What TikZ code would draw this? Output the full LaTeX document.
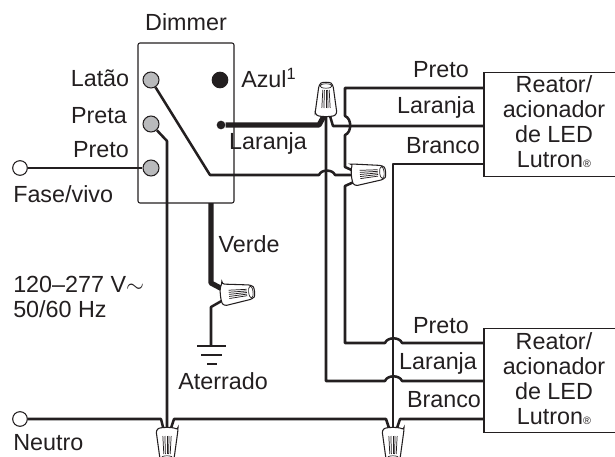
\documentclass[tikz,border=0pt]{standalone}
\usepackage{xcolor}
\usepackage{fontspec}
\setmainfont{Liberation Sans}
\usetikzlibrary{positioning,calc}
\definecolor{wirecol}{HTML}{231F20}
\definecolor{termcol}{HTML}{B9BABC}
\tikzset{
  wire/.style={draw=wirecol, line width=1.9pt, line join=round},
  thickwire/.style={draw=wirecol, line width=3.9pt, line join=round},
  box/.style={draw=wirecol, line width=0.8pt},
  term/.style={circle, draw=wirecol, line width=0.8pt, fill=termcol, minimum size=12pt, inner sep=0pt},
  free/.style={circle, draw=wirecol, line width=0.8pt, fill=white, minimum size=11pt, inner sep=0pt},
  lbl/.style={text=wirecol, font=\fontsize{17.5}{18.75}\selectfont, inner sep=0pt},
  wirenut/.pic={
    \draw[wirecol, fill=white, line width=0.8pt, rounded corners=2pt]
      (-11,0) -- (-7,-29) .. controls (-4,-32) and (4,-32) .. (7,-29) -- (11,0)
      .. controls (6,3) and (-6,3) .. cycle;
    \draw[wirecol, line width=0.5pt] (0,-28) ellipse (6 and 2.2);
    \foreach \i in {-3.2,-1.6,0,1.6,3.2}
      \draw[wirecol, line width=0.55pt] (\i*1.3,-6) -- (\i,-24);
  }
}
\begin{document}
\begin{tikzpicture}[x=0.75pt,y=-0.75pt]
  \clip (0,0) rectangle (615,457);
  % dimmer and drivers
  \draw[box, rounded corners=1.5pt] (138,43) rectangle (234,203);
  \node[box, minimum width=102pt, minimum height=77.5pt, inner sep=0pt] at (552,124.5) (driverA) {};
  \node[box, minimum width=102pt, minimum height=77.5pt, inner sep=0pt] at (552,380.5) (driverB) {};
  % terminals
  \node[term] at (151,80) (latao) {};
  \node[term] at (151,124) (preta) {};
  \node[term] at (151,168) (preto) {};
  \node[circle, fill=wirecol, minimum size=12.5pt, inner sep=0pt] at (220,80) (azul) {};
  \node[circle, fill=wirecol, minimum size=6.5pt, inner sep=0pt] at (221,125) (laranjaDot) {};
  \node[free] at (20,168) (fase) {};
  \node[free] at (20,419) (neutro) {};
  % points on the wires
  \coordinate (nutTop) at (326,114);
  \coordinate (nutTopL) at (324,116);
  \coordinate (nutTopR) at (330,116);
  \coordinate (nutMid) at (354,175);
  \coordinate (nutMidUp) at (356,172);
  \coordinate (nutMidLo) at (356,181);
  \coordinate (nutGnd) at (223,295);
  \coordinate (nutGndUp) at (226,291);
  \coordinate (nutGndLo) at (225,299);
  \coordinate (nutN) at (167,430);
  \coordinate (nutNL) at (164,431);
  \coordinate (nutNR) at (170,431);
  \coordinate (nutW) at (393,430);
  \coordinate (nutWL) at (390,431);
  \coordinate (nutWR) at (396,431);
  \coordinate (gnd) at (211,346);
  % wires
  \draw[wire] (fase) -- (preto);
  \draw[wire] (preta) -- (167,141) -- (nutN);
  \draw[wire] (latao) -- (210,175) -- (319,175) to[bend left=70] (335,175) -- (nutMid);
  \draw[thickwire] (laranjaDot) -- (319,125) -- (nutTopL);
  \draw[wire] (nutTop) -- (326,381) -- (385,381) to[bend left=70] (402,381) -- (driverB.west |- 326,381);
  \draw[wire] (nutTopR) -- (333,126) -- (driverA.west |- 332,126);
  \draw[wire] (driverA.west |- 345,88) -- (345,88) -- (345,116) to[bend left=70] (345,135) -- (345,167) -- (nutMidUp);
  \draw[wire] (nutMidLo) -- (345,186) -- (345,343) -- (385,343) to[bend left=70] (402,343) -- (driverB.west |- 345,343);
  \draw[wire] (driverA.west |- 393,164) -- (393,164) -- (nutW);
  \draw[wire] (neutro) -- (161,419) -- (nutNL);
  \draw[wire] (nutNR) -- (174,419) -- (386,419) -- (nutWL);
  \draw[wire] (nutWR) -- (400,419) -- (driverB.west |- 400,419);
  \draw[thickwire] (211,203) -- (211,283) -- (nutGndUp);
  \draw[wire] (nutGndLo) -- (211,307) -- (gnd);
  % ground
  \draw[wire] (197,346) -- (226,346);
  \draw[wire] (201,355) -- (222,355);
  \draw[wire] (207,364) -- (217,364);
  % wire nuts
  \pic at (nutTop) {wirenut};
  \pic[rotate=-85] at (nutMid) {wirenut};
  \pic[rotate=-84] at (nutGnd) {wirenut};
  \pic[rotate=180] at (nutN) {wirenut};
  \pic[rotate=180] at (nutW) {wirenut};
  % labels
  \node[lbl] at (186,22) (dimmerLbl) {Dimmer};
  \node[lbl] at (100,78) (lataoLbl) {Latão};
  \node[lbl] at (99,116) (pretaLbl) {Preta};
  \node[lbl] at (101,150) (pretoLbl) {Preto};
  \node[lbl, anchor=west] at (241,78) (azulLbl) {Azul\textsuperscript{1}};
  \node[lbl] at (268,143) (laranjaLbl) {Laranja};
  \node[lbl, anchor=west] at (13,194) (faseLbl) {Fase/vivo};
  \node[lbl, anchor=west] at (13,443) (neutroLbl) {Neutro};
  \node[lbl, anchor=west] at (13,284) (voltLbl) {120–277 V$\sim$};
  \node[lbl, anchor=west] at (13,309) (hzLbl) {50/60 Hz};
  \node[lbl] at (249,244) (verdeLbl) {Verde};
  \node[lbl] at (223,381) (terraLbl) {Aterrado};
  \node[lbl] at (441,70) (pretoA) {Preto};
  \node[lbl] at (436,107) (laranjaA) {Laranja};
  \node[lbl] at (443,146) (brancoA) {Branco};
  \node[lbl] at (441,326) (pretoB) {Preto};
  \node[lbl] at (438,363) (laranjaB) {Laranja};
  \node[lbl] at (444,400) (brancoB) {Branco};
  \node[lbl, align=center] at (554,122) (textA) {Reator/\\acionador\\de LED\\Lutron{\fontsize{8}{8}\selectfont ®}};
  \node[lbl, align=center] at (554,379) (textB) {Reator/\\acionador\\de LED\\Lutron{\fontsize{8}{8}\selectfont ®}};
\end{tikzpicture}
\end{document}
